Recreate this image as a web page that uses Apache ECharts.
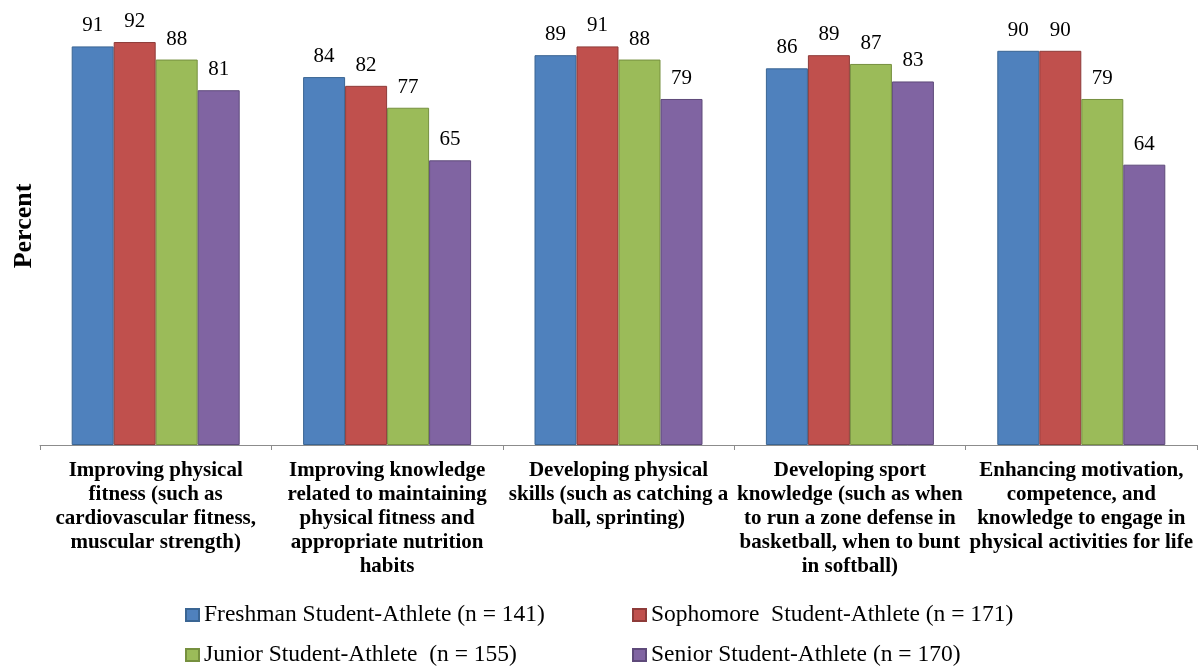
<!DOCTYPE html>
<html>
<head>
<meta charset="utf-8">
<script src="https://cdn.jsdelivr.net/npm/echarts@6/dist/echarts.min.js"></script>
<style>
  html, body { margin: 0; padding: 0; background: #fff; }
  #main { width: 1200px; height: 666px; }
</style>
</head>
<body>
<div id="main"></div>
<script>
var categories = [
  'Improving physical\nfitness (such as\ncardiovascular fitness,\nmuscular strength)',
  'Improving knowledge\nrelated to maintaining\nphysical fitness and\nappropriate nutrition\nhabits',
  'Developing physical\nskills (such as catching a\nball, sprinting)',
  'Developing sport\nknowledge (such as when\nto run a zone defense in\nbasketball, when to bunt\nin softball)',
  'Enhancing motivation,\ncompetence, and\nknowledge to engage in\nphysical activities for life'
];
var seriesNames = [
  'Freshman Student-Athlete (n = 141)',
  'Sophomore  Student-Athlete (n = 171)',
  'Junior Student-Athlete  (n = 155)',
  'Senior Student-Athlete (n = 170)'
];
var freshman = [91, 84, 89, 86, 90];
var sophomore = [92, 82, 91, 89, 90];
var junior = [88, 77, 88, 87, 79];
var senior = [81, 65, 79, 83, 64];

var fills = ['#4F81BD', '#C0504D', '#9BBB59', '#8064A2'];
var borders = ['#3A6593', '#8E3B39', '#76903F', '#5E4A7A'];
var values = [freshman, sophomore, junior, senior];

var serif = '"Liberation Serif", "Times New Roman", serif';

var myChart = echarts.init(document.getElementById('main'));

var series = [];
for (var i = 0; i < 4; i++) {
  series.push({
    name: seriesNames[i],
    type: 'bar',
    data: values[i],
    barWidth: 42,
    barGap: '0%',
    itemStyle: {
      color: fills[i],
      borderColor: borders[i],
      borderWidth: 1
    },
    label: {
      show: true,
      position: 'top',
      distance: 10,
      color: '#000',
      fontFamily: serif,
      fontSize: 21
    }
  });
}

var legendText = { color: '#000', fontFamily: serif, fontSize: 23.5 };

var option = {
  animation: false,
  textStyle: { fontFamily: serif },
  grid: {
    left: 40,
    right: 3,
    top: 7,
    bottom: 221,
    containLabel: false,
    outerBoundsMode: 'none'
  },
  legend: [
    {
      data: [seriesNames[0], seriesNames[2]],
      orient: 'vertical',
      left: 185,
      top: 603,
      width: 420,
      height: 80,
      itemGap: 16,
      itemWidth: 13,
      itemHeight: 12,
      icon: 'rect',
      textStyle: legendText,
      padding: 0
    },
    {
      data: [seriesNames[1], seriesNames[3]],
      orient: 'vertical',
      left: 632,
      top: 603,
      width: 420,
      height: 80,
      itemGap: 16,
      itemWidth: 13,
      itemHeight: 12,
      icon: 'rect',
      textStyle: legendText,
      padding: 0
    }
  ],
  xAxis: {
    type: 'category',
    data: categories,
    axisLine: { show: true, lineStyle: { color: '#8C8C8C', width: 1 } },
    axisTick: { show: true, length: 5, lineStyle: { color: '#8C8C8C' } },
    axisLabel: {
      interval: 0,
      margin: 14,
      color: '#000',
      fontFamily: serif,
      fontWeight: 'bold',
      fontSize: 21,
      lineHeight: 24,
      align: 'center'
    }
  },
  yAxis: {
    type: 'value',
    min: 0,
    max: 100,
    name: 'Percent',
    nameLocation: 'middle',
    nameGap: 3,
    nameTextStyle: {
      color: '#000',
      fontFamily: serif,
      fontWeight: 'bold',
      fontSize: 26
    },
    axisLine: { show: false },
    axisTick: { show: false },
    axisLabel: { show: false },
    splitLine: { show: false }
  },
  series: series
};

myChart.setOption(option);
</script>
</body>
</html>
